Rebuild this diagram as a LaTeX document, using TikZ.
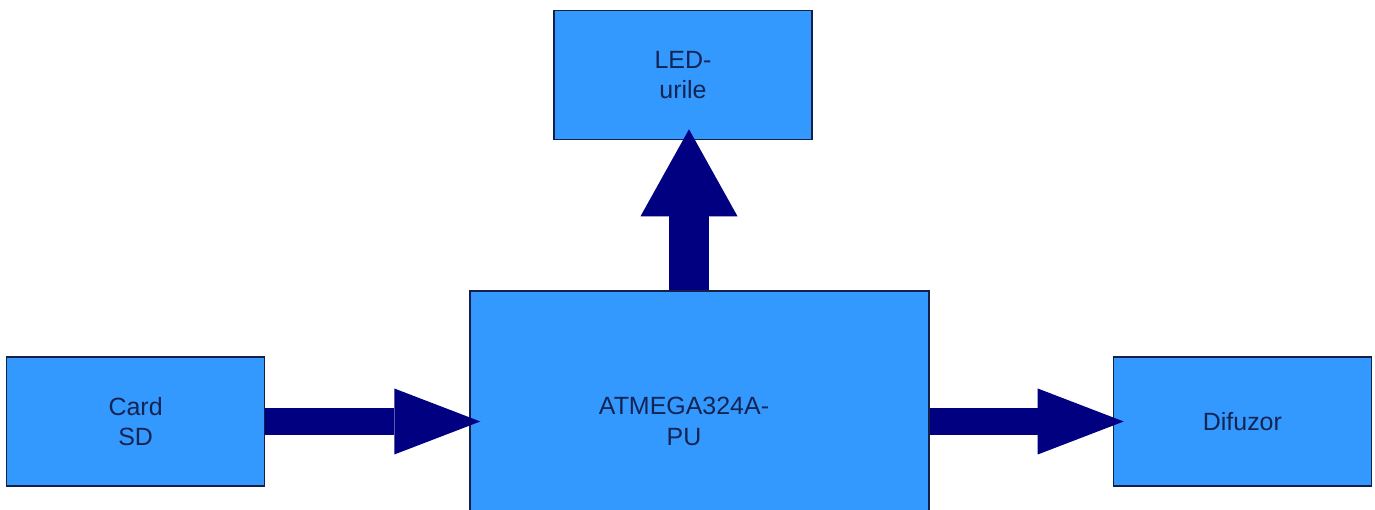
\documentclass[tikz,border=0pt]{standalone}
\usepackage{fontspec}
\setmainfont{Liberation Sans}
\usepackage{tikz}
\usetikzlibrary{positioning, arrows.meta}
\definecolor{blkFill}{HTML}{3399FF}
\definecolor{blkLine}{HTML}{14204A}
\definecolor{blkText}{HTML}{142452}
\definecolor{blkArrow}{HTML}{000080}
\tikzset{
    blkBase/.style={
        rectangle,
        draw=blkLine,
        fill=blkFill,
        line width=0.8pt,
        text=blkText,
        align=center,
        font=\fontsize{14.2pt}{17.5pt}\selectfont
    },
    % Blocks
    side/.style={blkBase, minimum width=5.16cm, minimum height=2.58cm},
    mcu/.style={blkBase, minimum width=9.18cm, minimum height=5.22cm},
    % Block arrows
    flowH/.style={line width=0.54cm, draw=blkArrow, shorten >=-0.22cm,
        -{Triangle[width=1.32cm, length=1.72cm, line width=0pt]}},
    flowV/.style={line width=0.8cm, draw=blkArrow, shorten >=-0.22cm,
        -{Triangle[width=1.94cm, length=1.74cm, line width=0pt]}}
}
\begin{document}
\begin{tikzpicture}[
    node distance=3cm
]
    \useasboundingbox (0,0) rectangle (27.5,10.2);
    \begin{scope}
    \clip (0,0) rectangle (27.5,10.2);
    \node[mcu, label={[align=center, text=blkText, font=\fontsize{14.2pt}{17.5pt}\selectfont, xshift=-0.31cm]center:ATMEGA324A-\\PU}] (atmega) at (13.99,1.77) {};
    \node[side, left=4.08cm of atmega] (card) {Card\\SD};
    \node[side, right=3.66cm of atmega] (difuzor) {Difuzor};
    \node[side, above=3cm of atmega, xshift=-0.33cm] (leds) {LED-\\urile};

    \draw[flowH] (card.east) -- (atmega.west |- card.east);
    \draw[flowH] (atmega.east |- difuzor.west) -- (difuzor.west);
    \draw[flowV] ([xshift=-0.21cm]atmega.north) -- ([xshift=-0.21cm]atmega.north |- leds.south);
    \end{scope}
\end{tikzpicture}
\end{document}
